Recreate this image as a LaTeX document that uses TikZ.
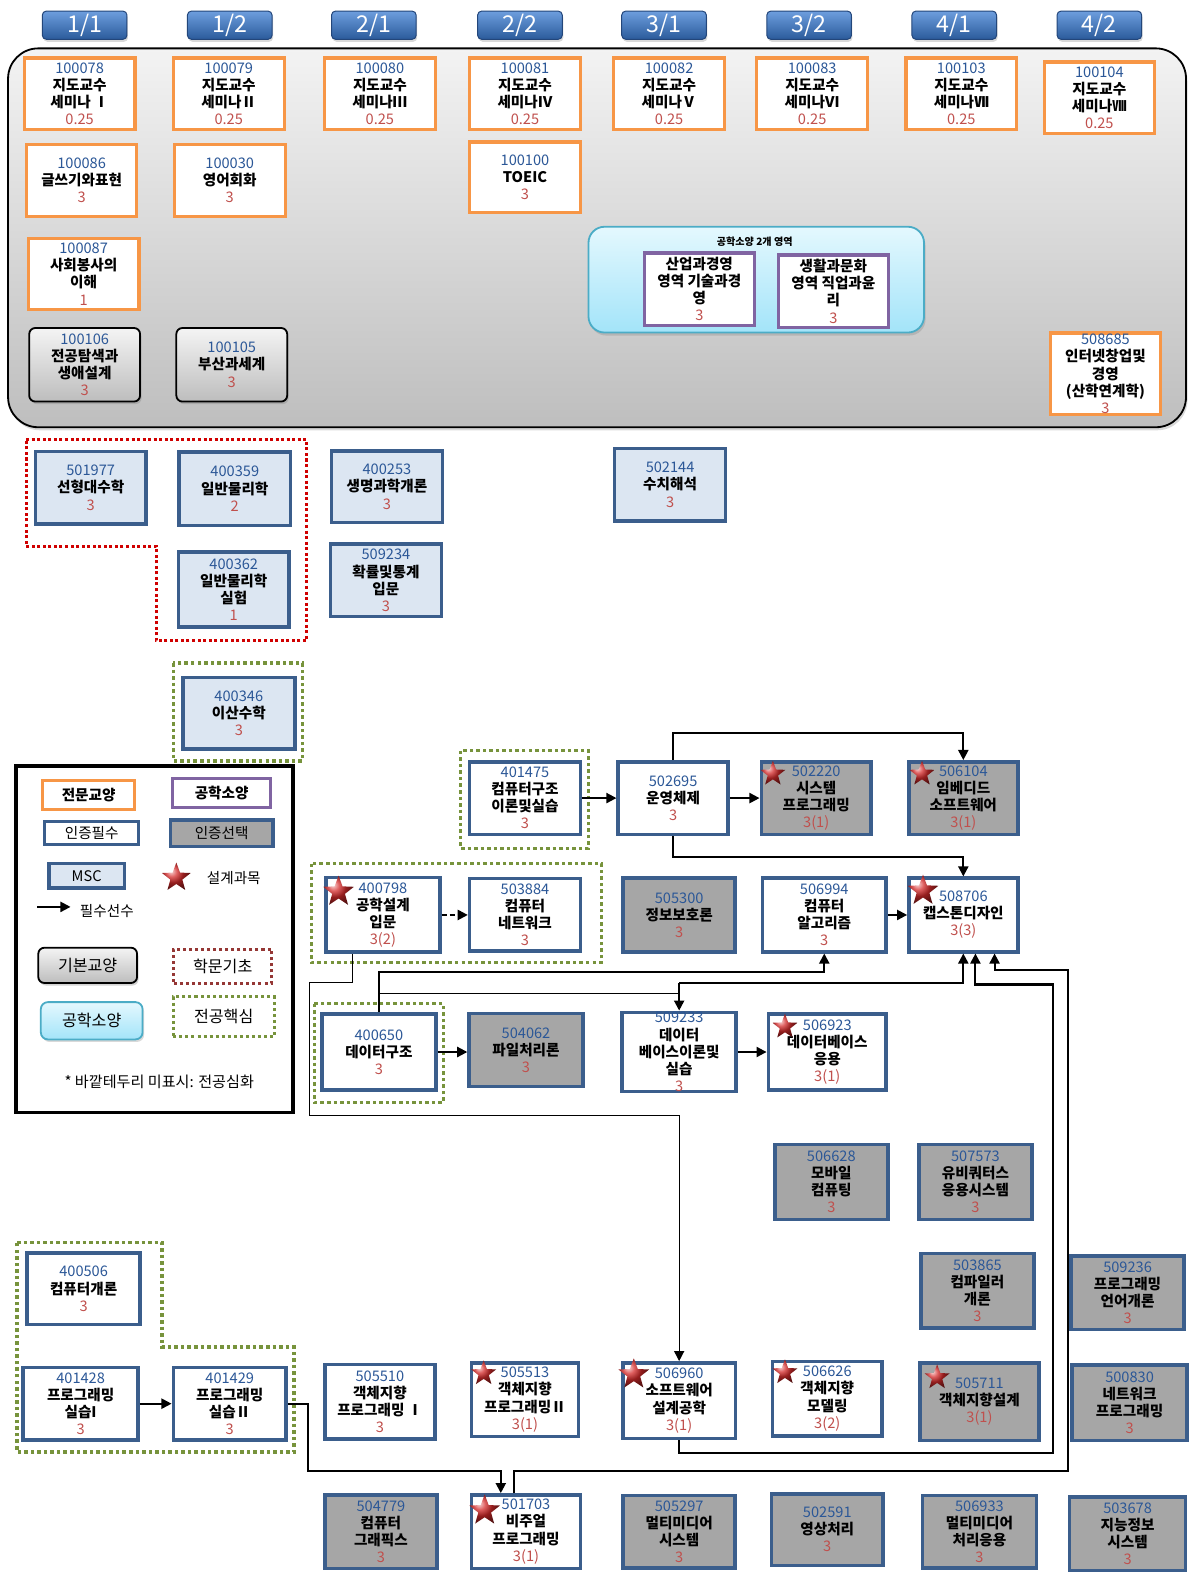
\documentclass[tikz,border=0pt]{standalone}
\usepackage{fontspec}
\setmainfont{Noto Sans CJK KR}
\usetikzlibrary{shapes.geometric,arrows.meta,shadows}
\definecolor{bbord}{HTML}{3B5E8C}
\definecolor{mscf}{HTML}{DCE6F2}
\definecolor{selg}{HTML}{A6A6A6}
\definecolor{ora}{HTML}{F79646}
\definecolor{pur}{HTML}{8064A2}
\definecolor{codec}{HTML}{2B5797}
\definecolor{credc}{HTML}{C0504D}
\definecolor{grn}{HTML}{77933C}
\definecolor{redd}{HTML}{D00000}
\definecolor{redl}{HTML}{953735}
\definecolor{hdt}{HTML}{6D9EDE}
\definecolor{hdb}{HTML}{2B5B9B}
\definecolor{hdd}{HTML}{23467A}
\definecolor{bast}{HTML}{F4F4F4}
\definecolor{basb}{HTML}{BDBDBD}
\definecolor{cont}{HTML}{F3F3F3}
\definecolor{conb}{HTML}{BEBEBE}
\definecolor{engt}{HTML}{E4F8FE}
\definecolor{engb}{HTML}{A3E4F9}
\definecolor{engd}{HTML}{4BACC6}
\definecolor{starc}{HTML}{D42A2A}
\newcommand\fsz{\fontsize{14.5}{17}\selectfont}
\newcommand\ccode[1]{\textcolor{codec}{\mdseries #1}}
\newcommand\ccred[1]{\textcolor{credc}{\mdseries #1}}
\tikzset{
  cbox/.style={draw=bbord, line width=3.5pt, fill=white, align=center, inner sep=0pt, font=\fsz\bfseries, text=black},
  msc/.style={cbox, fill=mscf},
  sel/.style={cbox, fill=selg},
  ge/.style={cbox, draw=ora, line width=3.2pt},
  eng/.style={cbox, draw=pur, line width=3.2pt},
  basic/.style={cbox, draw=black, line width=1.8pt, rounded corners=6pt, top color=bast, bottom color=basb, drop shadow={opacity=0.35, shadow xshift=1.5pt, shadow yshift=-2.5pt}},
  sz/.style 2 args={minimum width=#1pt, minimum height=#2pt},
  arr/.style={line width=2pt, -{Triangle[length=10pt,width=10pt]}},
  ln/.style={line width=2pt},
  thn/.style={line width=1.3pt},
  gdot/.style={draw=grn, line width=3.5pt, dash pattern=on 3.5pt off 3pt},
  rdot/.style={draw=redd, line width=3pt, dash pattern=on 3pt off 2.5pt},
  hdr/.style={draw=hdd, line width=1pt, rounded corners=4pt, top color=hdt, bottom color=hdb, text=white, font=\fontsize{23}{25}\selectfont, minimum width=84pt, minimum height=28pt, inner sep=0pt, drop shadow={opacity=0.3, shadow xshift=1pt, shadow yshift=-2.5pt}},
  strr/.style={star, star points=5, star point ratio=2.4, inner sep=0pt, minimum size=#1pt, ball color=starc},
  strr/.default=26,
  lgt/.style={font=\fsz, inner sep=0pt},
}
\begin{document}
\begin{tikzpicture}[x=1pt,y=-1pt]
\useasboundingbox (0,0) rectangle (1184,1567);
% general education container
\draw[line width=1.8pt, rounded corners=30pt, top color=cont, bottom color=conb, drop shadow={opacity=0.3, shadow xshift=1.5pt, shadow yshift=-3pt}] (8,48) rectangle (1177,424);
% headers
\node[hdr] (h1) at (84,25) {1/1};
\node[hdr] (h2) at (228,25) {1/2};
\node[hdr] (h3) at (371,25) {2/1};
\node[hdr] (h4) at (516,25) {2/2};
\node[hdr] (h5) at (659,25) {3/1};
\node[hdr] (h6) at (803,25) {3/2};
\node[hdr] (h7) at (947,25) {4/1};
\node[hdr] (h8) at (1091,25) {4/2};
% engineering container
\draw[draw=engd, line width=1.8pt, rounded corners=16pt, top color=engt, bottom color=engb, drop shadow={opacity=0.3, shadow xshift=1.5pt, shadow yshift=-3pt}] (584,225) rectangle (917,330);
\node[font=\fontsize{10}{12}\selectfont\bfseries] (engtitle) at (749,240) {공학소양 2개 영역};
% dotted groups
\draw[rdot] (26,436) -- (304,436) -- (304,636) -- (155,636) -- (155,542) -- (26,542) -- cycle;
\draw[gdot] (172,658) rectangle (300,755);
\draw[gdot] (457,745) rectangle (584,842);
\draw[gdot] (309,857) rectangle (597,955);
\draw[gdot] (312,996) rectangle (440,1094);
\draw[gdot] (17,1233) -- (161,1233) -- (161,1337) -- (292,1337) -- (292,1441) -- (17,1441) -- cycle;
% general education courses
\node[ge,sz={110}{71}] (c100078) at (79,93) {\ccode{100078}\\지도교수\\세미나 Ⅰ\\\ccred{0.25}};
\node[ge,sz={110}{71}] (c100079) at (227,93) {\ccode{100079}\\지도교수\\세미나Ⅱ\\\ccred{0.25}};
\node[ge,sz={110}{71}] (c100080) at (377,93) {\ccode{100080}\\지도교수\\세미나Ⅲ\\\ccred{0.25}};
\node[ge,sz={110}{71}] (c100081) at (521,93) {\ccode{100081}\\지도교수\\세미나Ⅳ\\\ccred{0.25}};
\node[ge,sz={110}{71}] (c100082) at (664,93) {\ccode{100082}\\지도교수\\세미나Ⅴ\\\ccred{0.25}};
\node[ge,sz={110}{71}] (c100083) at (806,93) {\ccode{100083}\\지도교수\\세미나Ⅵ\\\ccred{0.25}};
\node[ge,sz={110}{71}] (c100103) at (954,93) {\ccode{100103}\\지도교수\\세미나Ⅶ\\\ccred{0.25}};
\node[ge,sz={109}{71}] (c100104) at (1091,97) {\ccode{100104}\\지도교수\\세미나Ⅷ\\\ccred{0.25}};
\node[ge,sz={109}{71}] (c100086) at (81,179) {\ccode{100086}\\글쓰기와표현\\\ccred{3}};
\node[ge,sz={110}{71}] (c100030) at (228,179) {\ccode{100030}\\영어회화\\\ccred{3}};
\node[ge,sz={110}{70}] (c100100) at (521,176) {\ccode{100100}\\TOEIC\\\ccred{3}};
\node[ge,sz={110}{70}] (c100087) at (83,272) {\ccode{100087}\\사회봉사의\\이해\\\ccred{1}};
\node[basic,sz={110}{73}] (c100106) at (84,362) {\ccode{100106}\\전공탐색과\\생애설계\\\ccred{3}};
\node[basic,sz={110}{73}] (c100105) at (230,362) {\ccode{100105}\\부산과세계\\\ccred{3}};
\node[ge,sz={109}{81}] (c508685) at (1097,371) {\ccode{508685}\\인터넷창업및\\경영\\(산학연계학)\\\ccred{3}};
\node[eng,sz={109}{72}] (e1) at (694,287) {산업과경영\\영역 기술과경\\영\\\ccred{3}};
\node[eng,sz={109}{72}] (e2) at (827,289) {생활과문화\\영역 직업과윤\\리\\\ccred{3}};
% MSC
\node[msc,sz={110}{72}] (c501977) at (90,484) {\ccode{501977}\\선형대수학\\\ccred{3}};
\node[msc,sz={111}{73}] (c400359) at (233,485) {\ccode{400359}\\일반물리학\\\ccred{2}};
\node[msc,sz={110}{74}] (c400362) at (232,585) {\ccode{400362}\\일반물리학\\실험\\\ccred{1}};
\node[msc,sz={110}{71}] (c400253) at (384,483) {\ccode{400253}\\생명과학개론\\\ccred{3}};
\node[msc,sz={110}{72}] (c509234) at (383,576) {\ccode{509234}\\확률및통계\\입문\\\ccred{3}};
\node[msc,sz={110}{72}] (c502144) at (665,481) {\ccode{502144}\\수치해석\\\ccred{3}};
\node[msc,sz={111}{71}] (c400346) at (237,708) {\ccode{400346}\\이산수학\\\ccred{3}};
% major courses
\node[cbox,sz={110}{72}] (c401475) at (521,792) {\ccode{401475}\\컴퓨터구조\\이론및실습\\\ccred{3}};
\node[cbox,sz={109}{72}] (c502695) at (668,792) {\ccode{502695}\\운영체제\\\ccred{3}};
\node[sel,sz={109}{72}] (c502220) at (810,792) {\ccode{502220}\\시스템\\프로그래밍\\\ccred{3(1)}};
\node[sel,sz={108}{72}] (c506104) at (956,792) {\ccode{506104}\\임베디드\\소프트웨어\\\ccred{3(1)}};
\node[cbox,sz={113}{74}] (c400798) at (380,908) {\ccode{400798}\\공학설계\\입문\\\ccred{3(2)}};
\node[cbox,sz={110}{72}] (c503884) at (521,908) {\ccode{503884}\\컴퓨터\\네트워크\\\ccred{3}};
\node[sel,sz={111}{73}] (c505300) at (674,908) {\ccode{505300}\\정보보호론\\\ccred{3}};
\node[cbox,sz={123}{73}] (c506994) at (818,908) {\ccode{506994}\\컴퓨터\\알고리즘\\\ccred{3}};
\node[cbox,sz={108}{73}] (c508706) at (956,908) {\ccode{508706}\\캡스톤디자인\\\ccred{3(3)}};
\node[cbox,sz={113}{75}] (c400650) at (376,1044) {\ccode{400650}\\데이터구조\\\ccred{3}};
\node[sel,sz={113}{72}] (c504062) at (522,1042) {\ccode{504062}\\파일처리론\\\ccred{3}};
\node[cbox,sz={113}{75}] (c509233) at (674,1044) {\ccode{509233}\\데이터\\베이스이론및\\실습\\\ccred{3}};
\node[cbox,sz={117}{75}] (c506923) at (821,1044) {\ccode{506923}\\데이터베이스\\응용\\\ccred{3(1)}};
\node[sel,sz={112}{74}] (c506628) at (825,1173) {\ccode{506628}\\모바일\\컴퓨팅\\\ccred{3}};
\node[sel,sz={112}{74}] (c507573) at (968,1173) {\ccode{507573}\\유비쿼터스\\응용시스템\\\ccred{3}};
\node[sel,sz={112}{74}] (c503865) at (970,1281) {\ccode{503865}\\컴파일러\\개론\\\ccred{3}};
\node[sel,sz={112}{73}] (c509236) at (1119,1283) {\ccode{509236}\\프로그래밍\\언어개론\\\ccred{3}};
\node[cbox,sz={112}{71}] (c400506) at (83,1279) {\ccode{400506}\\컴퓨터개론\\\ccred{3}};
\node[cbox,sz={114}{72}] (c401428) at (80,1393) {\ccode{401428}\\프로그래밍\\실습I\\\ccred{3}};
\node[cbox,sz={112}{72}] (c401429) at (228,1393) {\ccode{401429}\\프로그래밍\\실습Ⅱ\\\ccred{3}};
\node[cbox,sz={109}{74}] (c505510) at (377,1391) {\ccode{505510}\\객체지향\\프로그래밍 Ⅰ\\\ccred{3}};
\node[cbox,sz={106}{73}] (c505513) at (521,1389) {\ccode{505513}\\객체지향\\프로그래밍Ⅱ\\\ccred{3(1)}};
\node[cbox,sz={112}{75}] (c506960) at (674,1390) {\ccode{506960}\\소프트웨어\\설계공학\\\ccred{3(1)}};
\node[cbox,sz={109}{74}] (c506626) at (821,1388) {\ccode{506626}\\객체지향\\모델링\\\ccred{3(2)}};
\node[sel,sz={118}{77}] (c505711) at (972,1391) {\ccode{505711}\\객체지향설계\\\ccred{3(1)}};
\node[sel,sz={114}{75}] (c500830) at (1121,1392) {\ccode{500830}\\네트워크\\프로그래밍\\\ccred{3}};
\node[sel,sz={111}{73}] (c504779) at (378,1520) {\ccode{504779}\\컴퓨터\\그래픽스\\\ccred{3}};
\node[cbox,sz={108}{73}] (c501703) at (522,1520) {\ccode{501703}\\비주얼\\프로그래밍\\\ccred{3(1)}};
\node[sel,sz={111}{72}] (c505297) at (674,1520) {\ccode{505297}\\멀티미디어\\시스템\\\ccred{3}};
\node[sel,sz={111}{71}] (c502591) at (821,1518) {\ccode{502591}\\영상처리\\\ccred{3}};
\node[sel,sz={113}{72}] (c506933) at (972,1520) {\ccode{506933}\\멀티미디어\\처리응용\\\ccred{3}};
\node[sel,sz={115}{73}] (c503678) at (1119,1522) {\ccode{503678}\\지능정보\\시스템\\\ccred{3}};
% design-course stars
\node[strr] (s1) at (767,768) {};
\node[strr] (s2) at (915,768) {};
\node[strr=32] (s3) at (336,885) {};
\node[strr=32] (s4) at (916,884) {};
\node[strr] (s5) at (779,1019) {};
\node[strr] (s6) at (480,1363) {};
\node[strr=32] (s7) at (629,1364) {};
\node[strr] (s8) at (779,1362) {};
\node[strr] (s9) at (930,1367) {};
\node[strr=32] (s10) at (481,1499) {};
% connectors
\draw[arr] (c401475.east) -- (c502695.west);
\draw[arr] (c502695.east) -- (c502220.west);
\draw[arr] (c502695.north) -- ++(0,-27) -| (c506104.north);
\draw[arr] (c502695.south) -- ++(0,21) -| (c508706.north);
\draw[arr, dash pattern=on 5pt off 3pt] (c400798.east) -- (c503884.west);
\draw[arr] (c506994.east) -- (c508706.west);
\draw[thn, -{Triangle[length=10pt,width=10pt]}] ([xshift=-30pt]c400798.south) |- (307,975) -- (307,1107) -| (c506960.north);
\draw[arr] (c400650.north) -- (376,965) -| (c506994.south);
\draw[thn] (376,986) -- (674,986);
\draw[arr] (674,976) -- (c509233.north);
\draw[arr] (674,976) -| (c508706.south);
\draw[arr] (c400650.east) -- (c400650.east -| c504062.west);
\draw[arr] (c509233.east) -- (c509233.east -| c506923.west);
\draw[arr] (c401428.east) -- (c401428.east -| c401429.west);
\draw[arr] (c506960.south) |- (1045,1442) -- (1045,977) -| ([xshift=12pt]c508706.south);
\draw[arr] ([xshift=-12pt]c501703.north) |- (1060,1460) -- (1060,963) -| ([xshift=31pt]c508706.south);
\draw[arr] (c401429.east) -| (306,1460) -| ([xshift=-25pt]c501703.north);
% legend
\draw[line width=3.5pt] (16,760) rectangle (291,1104);
\node[ge,sz={91}{29}] (lg1) at (88,789) {전문교양};
\node[eng,sz={97}{29}] (lg2) at (220,787) {공학소양};
\node[cbox,line width=3pt,sz={93}{23},font=\fsz\mdseries] (lg3) at (91,827) {인증필수};
\node[sel,sz={102}{26},font=\fsz\mdseries] (lg4) at (220,827) {인증선택};
\node[msc,sz={75}{24},font=\fsz\mdseries] (lg5) at (86,869) {MSC};
\node[strr=30] (lgs) at (175,871) {};
\node[lgt] (lg6t) at (232,871) {설계과목};
\coordinate (la1) at (37,900);
\coordinate (la2) at (70,900);
\draw[arr] (la1) -- (la2);
\node[lgt] (lg7t) at (106,904) {필수선수};
\node[basic,sz={98}{35},font=\fontsize{16}{18}\selectfont] (lg8) at (87,958) {기본교양};
\node[draw=redl, line width=3pt, dash pattern=on 3pt off 3pt, sz={97}{34}, font=\fontsize{16}{18}\selectfont] (lg9) at (221,959) {학문기초};
\node[draw=engd, line width=1.8pt, rounded corners=7pt, top color=engt, bottom color=engb, sz={101}{37}, font=\fontsize{16}{18}\selectfont, drop shadow={opacity=0.3, shadow xshift=1.5pt, shadow yshift=-2.5pt}] (lg10) at (91,1013) {공학소양};
\node[draw=grn, line width=3pt, dash pattern=on 3pt off 3pt, sz={100}{40}, font=\fontsize{16}{18}\selectfont] (lg11) at (222,1009) {전공핵심};
\node[font=\fontsize{15}{18}\selectfont] (lgnote) at (158,1074) {* 바깥테두리 미표시: 전공심화};
\end{tikzpicture}
\end{document}
